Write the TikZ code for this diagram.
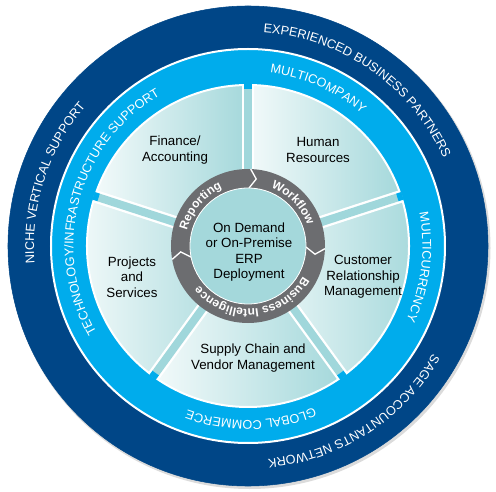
\documentclass[tikz,border=0pt]{standalone}
\usepackage{fontspec}
\setmainfont{Liberation Sans}
\usetikzlibrary{decorations.text}
\definecolor{navy}{RGB}{0,70,135}
\definecolor{skyblue}{RGB}{0,172,236}
\definecolor{bandteal}{RGB}{160,215,219}
\definecolor{segleft}{RGB}{243,250,250}
\definecolor{segright}{RGB}{164,216,219}
\definecolor{hubgray}{RGB}{108,109,112}
\definecolor{hubteal}{RGB}{164,216,219}
\newcommand{\ringfont}{\fontsize{9.5}{11}\selectfont}
\newcommand{\hubfont}{\fontsize{9}{11}\selectfont\bfseries}
\tikzset{
  segtext/.style={align=center,font=\fontsize{10}{11.6}\selectfont,text=black},
  ringlabel/.style={decorate,decoration={text along path,text align=center,
    text color=white,text={|\ringfont|#1}}},
  hublabel/.style={decorate,decoration={text along path,text align=center,
    text color=white,text={|\hubfont|#1}}}
}
\begin{document}
\begin{tikzpicture}[x=0.75pt,y=0.75pt]
\useasboundingbox (-248,-246) rectangle (248,246);
% outer rings
\fill[black!14] (1.5,-2) circle (241);
\draw[navy,fill=navy] (0,0) circle (240);
\draw[white,line width=1.5pt,fill=skyblue] (0,0) circle (197);
\fill[bandteal] (0,0) circle (157);
% five segments
\foreach \a/\b in {90/162,18/90,-54/18,-126/-54,162/234}
  \shade[left color=segleft,right color=segright,draw=white,line width=1.5pt]
    (0,0) -- (\a:161) arc[start angle=\a,end angle=\b,radius=161] -- cycle;
\foreach \t in {90,18,-54,-126,162}{
  \draw[white,line width=9.5pt] (\t:70) -- (\t:161);
  \draw[bandteal,line width=6pt] (\t:70) -- (\t:157);
  \draw[skyblue,line width=6pt] (\t:157) -- (\t:162.5);
}
% hub
\draw[hubgray,line width=14.25pt] (0,0) circle (67.5);
\foreach \t in {88,-2,190}
  \draw[white,line width=1pt] (\t:77) -- (\t-5:67.5) -- (\t+1:58);
\draw[white,line width=0.6pt,fill=hubteal] (0,0) circle (58);
% labels
\node[segtext] (finance) at (-73,96) {Finance/\\Accounting};
\node[segtext] (hr) at (70,96) {Human\\Resources};
\node[segtext] (crm) at (115,-31) {Customer\\Relationship\\Management};
\node[segtext] (projects) at (-116,-31) {Projects\\and\\Services};
\node[segtext] (supply) at (5,-112) {Supply Chain and\\Vendor Management};
\node[segtext] (erp) at (1,-6) {On Demand\\or On-Premise\\ERP\\Deployment};
% ring texts
\path[ringlabel={EXPERIENCED BUSINESS PARTNERS}] (125:214) arc[start angle=125,end angle=-15,radius=214];
\path[ringlabel={NICHE VERTICAL SUPPORT}] (230:214) arc[start angle=230,end angle=94,radius=214];
\path[ringlabel={SAGE ACCOUNTANTS NETWORK}] (10:214) arc[start angle=10,end angle=-125,radius=214];
\path[ringlabel={MULTICOMPANY}] (120:174.5) arc[start angle=120,end angle=12,radius=174.5];
\path[ringlabel={MULTICURRENCY}] (50:174.5) arc[start angle=50,end angle=-64,radius=174.5];
\path[ringlabel={GLOBAL COMMERCE}] (-30:174.5) arc[start angle=-30,end angle=-148,radius=174.5];
\path[ringlabel={TECHNOLOGY/INFRASTRUCTURE SUPPORT}] (240:174.5) arc[start angle=240,end angle=90,radius=174.5];
\path[hublabel={Reporting}] (220:63) arc[start angle=220,end angle=60,radius=63];
\path[hublabel={Workflow}] (124:63) arc[start angle=124,end angle=-36,radius=63];
\path[hublabel={Business Intelligence}] (0:63) arc[start angle=0,end angle=-170,radius=63];
\end{tikzpicture}
\end{document}
